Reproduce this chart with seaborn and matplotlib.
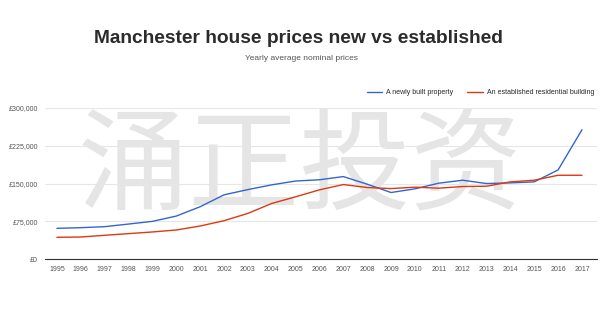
import matplotlib
matplotlib.use("Agg")
import matplotlib.pyplot as plt
import seaborn as sns
import pandas as pd

years = list(range(1995, 2018))
new_build = [61200, 62500, 64500, 69700, 75000, 85500, 104000, 127600, 138000,
             147400, 155000, 157500, 163800, 148700, 132200, 139500, 150700,
             156600, 150000, 151300, 153300, 177000, 256600]
established = [43400, 44000, 47400, 50700, 54000, 57900, 65800, 76300, 90800,
               110500, 123700, 137500, 148000, 142100, 140000, 142800, 140800,
               144100, 144700, 153300, 156600, 166400, 166400]
series_names = ["A newly built property", "An established residential building"]
y_ticks = [0, 75000, 150000, 225000, 300000]
y_labels = ["£0", "£75,000", "£150,000", "£225,000", "£300,000"]

df = pd.DataFrame({
    "year": years * 2,
    "price": new_build + established,
    "type": [series_names[0]] * len(years) + [series_names[1]] * len(years),
})

sns.set_theme(style="white")
plt.rcParams["font.family"] = ["Liberation Sans", "DejaVu Sans"]

fig = plt.figure(figsize=(6, 3.24), dpi=100)
ax = fig.add_axes([0.075, 0.2, 0.92, 0.467])

palette = {series_names[0]: "#3366cc", series_names[1]: "#dc3912"}
sns.lineplot(data=df, x="year", y="price", hue="type", palette=palette,
             linewidth=1.0, ax=ax, legend=False, zorder=3)

# watermark, drawn underneath the axes
fig.text(0.5, 0.48, "涌正投资", family=["Noto Sans CJK SC"], fontsize=80,
         color="#e5e5e5", ha="center", va="center",
         fontweight="light", zorder=-1)

ax.set_xlim(1994.5, 2017.63)
ax.set_ylim(0, 300000)
ax.set_xticks(years)
ax.set_xticklabels([str(y) for y in years], fontsize=5, color="#555555")
ax.set_yticks(y_ticks)
ax.set_yticklabels(y_labels, fontsize=5, color="#555555")
ax.tick_params(axis="both", length=0, pad=5)
ax.set_xlabel("")
ax.set_ylabel("")
ax.grid(axis="y", color="#e6e6e6", linewidth=0.8)
ax.set_axisbelow(True)
for side in ["top", "right", "left"]:
    ax.spines[side].set_visible(False)
ax.spines["bottom"].set_color("#333333")
ax.spines["bottom"].set_linewidth(0.8)
ax.patch.set_alpha(0)

handles = [plt.Line2D([], [], color=palette[n], linewidth=1.0) for n in series_names]
ax.legend(handles, series_names, loc="lower right", bbox_to_anchor=(1.0, 1.06),
          ncol=2, frameon=False, fontsize=5, handlelength=2.2,
          columnspacing=2.0, handletextpad=0.6, borderaxespad=0)

fig.text(0.497, 0.88, "Manchester house prices new vs established",
         fontsize=13.8, fontweight="bold", color="#2b2b2b", ha="center", va="center")
fig.text(0.503, 0.82, "Yearly average nominal prices",
         fontsize=6, color="#555555", ha="center", va="center")

fig.savefig("out.png", dpi=100)
